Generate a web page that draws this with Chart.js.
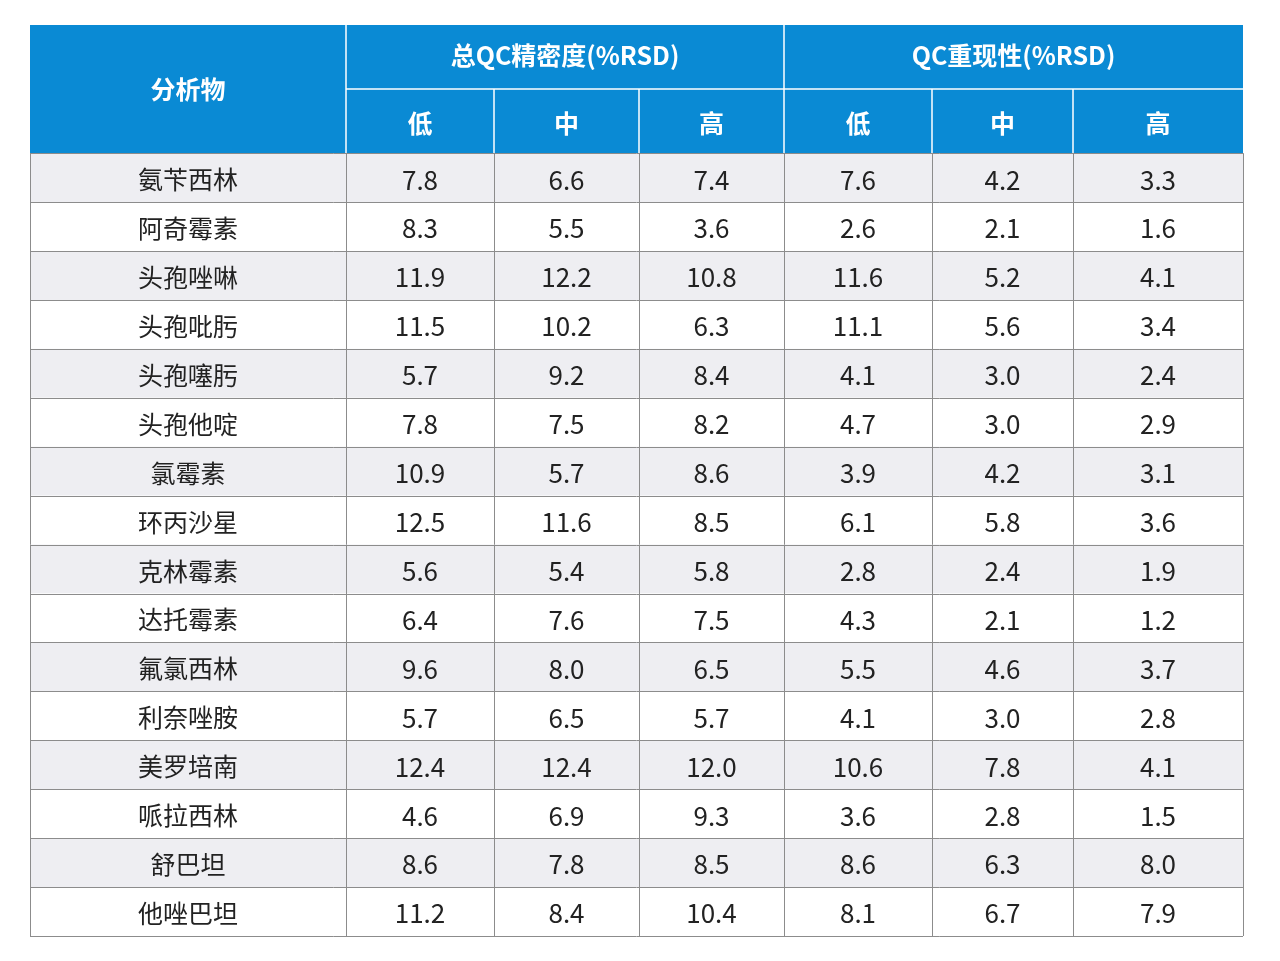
<!DOCTYPE html>
<html><head><meta charset="utf-8">
<script src="https://cdn.jsdelivr.net/npm/chart.js@4"></script>
<style>html,body{margin:0;padding:0;background:#fff}#c{display:block}</style>
</head><body>
<div style="width:1280px;height:961px"><canvas id="c"></canvas></div>
<script>
const analytes = ["氨苄西林","阿奇霉素","头孢唑啉","头孢吡肟","头孢噻肟","头孢他啶","氯霉素","环丙沙星","克林霉素","达托霉素","氟氯西林","利奈唑胺","美罗培南","哌拉西林","舒巴坦","他唑巴坦"];
const groupLabels = ["总QC精密度(%RSD)","QC重现性(%RSD)"];
const levelLabels = ["低","中","高"];
const firstHeader = "分析物";
const precLow  = ["7.8","8.3","11.9","11.5","5.7","7.8","10.9","12.5","5.6","6.4","9.6","5.7","12.4","4.6","8.6","11.2"];
const precMid  = ["6.6","5.5","12.2","10.2","9.2","7.5","5.7","11.6","5.4","7.6","8.0","6.5","12.4","6.9","7.8","8.4"];
const precHigh = ["7.4","3.6","10.8","6.3","8.4","8.2","8.6","8.5","5.8","7.5","6.5","5.7","12.0","9.3","8.5","10.4"];
const repLow   = ["7.6","2.6","11.6","11.1","4.1","4.7","3.9","6.1","2.8","4.3","5.5","4.1","10.6","3.6","8.6","8.1"];
const repMid   = ["4.2","2.1","5.2","5.6","3.0","3.0","4.2","5.8","2.4","2.1","4.6","3.0","7.8","2.8","6.3","6.7"];
const repHigh  = ["3.3","1.6","4.1","3.4","2.4","2.9","3.1","3.6","1.9","1.2","3.7","2.8","4.1","1.5","8.0","7.9"];

// layout (x units in table coordinates)
const colEdges = [0,316,464,609,754,902,1043,1213];
const headerRows = 2.62;
const rowsTotal = analytes.length + headerRows;
const series = [precLow,precMid,precHigh,repLow,repMid,repHigh];
const FONT = '"Noto Sans CJK SC","Noto Sans",sans-serif';

const tablePlugin = {
  id:'table',
  afterDraw(chart){
    const ctx = chart.ctx, xs = chart.scales.x, ys = chart.scales.y;
    const X = v=>xs.getPixelForValue(v), Y = v=>ys.getPixelForValue(v);
    const left=X(0), right=X(1213), top=Y(0), hTop=Y(headerRows/2), hBot=Y(headerRows), bot=Y(rowsTotal);
    ctx.save();
    ctx.fillStyle='#0a8ad4';
    ctx.fillRect(left,top,right-left,hBot-top);
    analytes.forEach((a,i)=>{
      const y0=Y(headerRows+i), y1=Y(headerRows+i+1);
      ctx.fillStyle = i%2===0 ? '#eeeef2' : '#ffffff';
      ctx.fillRect(left,y0,right-left,y1-y0);
    });
    ctx.strokeStyle='#ffffff'; ctx.lineWidth=1.5;
    ctx.beginPath();
    ctx.moveTo(X(colEdges[1]),hTop); ctx.lineTo(right,hTop);
    [1,4].forEach(k=>{ctx.moveTo(X(colEdges[k]),top);ctx.lineTo(X(colEdges[k]),hBot);});
    [2,3,5,6].forEach(k=>{ctx.moveTo(X(colEdges[k]),hTop);ctx.lineTo(X(colEdges[k]),hBot);});
    ctx.stroke();
    ctx.strokeStyle='#8c8c8c'; ctx.lineWidth=1;
    ctx.beginPath();
    for(let i=0;i<=analytes.length;i++){const y=Math.round(Y(headerRows+i))+0.5;ctx.moveTo(left,y);ctx.lineTo(right,y);}
    colEdges.forEach(e=>{const x=Math.round(X(e))+0.5;ctx.moveTo(x,hBot);ctx.lineTo(x,bot);});
    ctx.stroke();
    ctx.fillStyle='#fff'; ctx.textAlign='center'; ctx.textBaseline='middle';
    ctx.font='bold 25px '+FONT;
    ctx.fillText(firstHeader,(X(colEdges[0])+X(colEdges[1]))/2,(top+hBot)/2);
    ctx.fillText(groupLabels[0],(X(colEdges[1])+X(colEdges[4]))/2,(top+hTop)/2-2);
    ctx.fillText(groupLabels[1],(X(colEdges[4])+X(colEdges[7]))/2,(top+hTop)/2-2);
    for(let k=0;k<6;k++) ctx.fillText(levelLabels[k%3],(X(colEdges[k+1])+X(colEdges[k+2]))/2,(hTop+hBot)/2+2);
    ctx.fillStyle='#222';
    analytes.forEach((a,i)=>{
      const yc=(Y(headerRows+i)+Y(headerRows+i+1))/2+2;
      ctx.font='25px '+FONT;
      ctx.fillText(a,(X(colEdges[0])+X(colEdges[1]))/2,yc);
      ctx.font='26px '+FONT;
      series.forEach((s,k)=>ctx.fillText(s[i],(X(colEdges[k+1])+X(colEdges[k+2]))/2,yc));
    });
    ctx.restore();
  }
};

new Chart(document.getElementById('c'),{
  type:'scatter',
  data:{datasets:[{data:[]}]},
  options:{
    responsive:true, maintainAspectRatio:false, animation:false,
    layout:{padding:{left:30,right:37,top:25,bottom:25}},
    plugins:{legend:{display:false},tooltip:{enabled:false}},
    scales:{
      x:{type:'linear',min:0,max:1213,display:false},
      y:{type:'linear',min:0,max:rowsTotal,reverse:true,display:false}
    }
  },
  plugins:[tablePlugin]
});
</script>
</body></html>
